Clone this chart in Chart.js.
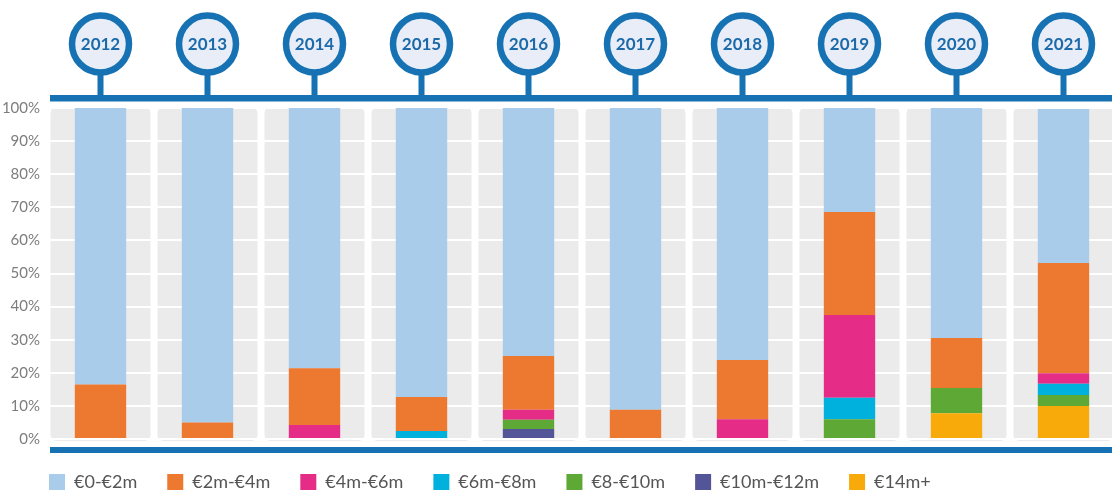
<!DOCTYPE html>
<html>
<head>
<meta charset="utf-8">
<script src="https://cdn.jsdelivr.net/npm/chart.js@4.4.0/dist/chart.umd.min.js"></script>
<style>
  html, body { margin: 0; padding: 0; overflow: hidden; background: #fff; }
  #wrap { width: 1112px; height: 494px; overflow: hidden; }
</style>
</head>
<body>
<div id="wrap"><canvas id="chart" width="1118" height="497"></canvas></div>
<script>
var years = ['2012', '2013', '2014', '2015', '2016', '2017', '2018', '2019', '2020', '2021'];

// share of deals per price band, %
var band0to2   = [83.5, 95, 78.6, 87.3, 74.9, 91.2, 76.1, 31.4, 69.5, 46.5];
var band2to4   = [16.5, 5, 17.2, 10.3, 16.3, 8.8, 17.9, 31.1, 15.1, 33.3];
var band4to6   = [0, 0, 4.2, 0, 3, 0, 6, 25, 0, 3.2];
var band6to8   = [0, 0, 0, 2.4, 0, 0, 0, 6.5, 0, 3.4];
var band8to10  = [0, 0, 0, 0, 2.8, 0, 0, 6, 7.6, 3.3];
var band10to12 = [0, 0, 0, 0, 3, 0, 0, 0, 0, 0];
var band14plus = [0, 0, 0, 0, 0, 0, 0, 0, 7.8, 10];

var yTicks = [0, 10, 20, 30, 40, 50, 60, 70, 80, 90, 100];

var BLUE = '#1672b3';

// grey rounded panels behind each year, drawn before the grid
var panels = {
    id: 'panels',
    beforeDraw: function(chart) {
        var ctx = chart.ctx, a = chart.chartArea;
        var w = (a.right - a.left) / years.length;
        ctx.save();
        ctx.fillStyle = '#ebebeb';
        for (var i = 0; i < years.length; i++) {
            var x0 = a.left + i * w + 3.5;
            ctx.beginPath();
            ctx.roundRect(x0, a.top - 1, w - 7, a.bottom - a.top + 3, 6);
            ctx.fill();
        }
        ctx.restore();
    }
};

// move the legend a bit right/down, chart.js puts it flush under the plot
var legendShift = {
    id: 'legendShift',
    afterLayout: function(chart) {
        var lg = chart.legend;
        lg.left += 19; lg.right += 19;
        lg.top += 4; lg.bottom += 4;
    }
};

// timeline: blue bars, stems and year circles
var timeline = {
    id: 'timeline',
    afterDraw: function(chart) {
        var ctx = chart.ctx;
        var xs = chart.scales.x;
        ctx.save();
        ctx.fillStyle = BLUE;
        ctx.fillRect(50, 95, 1080, 6.5);
        ctx.fillRect(50, 447, 1080, 6);
        for (var i = 0; i < years.length; i++) {
            var cx = xs.getPixelForValue(i);
            ctx.fillStyle = BLUE;
            ctx.fillRect(cx - 3, 70, 6, 28);
            ctx.beginPath();
            ctx.arc(cx, 44, 28.5, 0, Math.PI * 2);
            ctx.fillStyle = '#e8edf8';
            ctx.fill();
            ctx.lineWidth = 6.5;
            ctx.strokeStyle = BLUE;
            ctx.stroke();
            ctx.fillStyle = '#1b6aa9';
            ctx.font = 'bold 17px Lato';
            ctx.textAlign = 'center';
            ctx.textBaseline = 'middle';
            ctx.fillText(years[i], cx, 45);
        }
        ctx.restore();
    }
};

new Chart(document.getElementById('chart'), {
    type: 'bar',
    data: {
        labels: years,
        datasets: [
            { label: '€14m+', data: band14plus, backgroundColor: '#f9aa0b' },
            { label: '€10m-€12m', data: band10to12, backgroundColor: '#545599' },
            { label: '€8-€10m', data: band8to10, backgroundColor: '#5ea835' },
            { label: '€6m-€8m', data: band6to8, backgroundColor: '#00b1dd' },
            { label: '€4m-€6m', data: band4to6, backgroundColor: '#e52d87' },
            { label: '€2m-€4m', data: band2to4, backgroundColor: '#ed7930' },
            { label: '€0-€2m', data: band0to2, backgroundColor: '#a8cce9' }
        ]
    },
    options: {
        responsive: false,
        animation: false,
        layout: { padding: { left: 0, right: 1, top: 108, bottom: 0 } },
        datasets: { bar: { categoryPercentage: 1, barPercentage: 0.48 } },
        scales: {
            x: {
                stacked: true,
                display: false
            },
            y: {
                stacked: true,
                min: 0,
                max: 100,
                afterFit: function(s) { s.width = 47; },
                afterBuildTicks: function(s) { s.ticks = yTicks.map(function(v) { return { value: v }; }); },
                grid: { color: '#ffffff', lineWidth: 2, drawTicks: false },
                border: { display: false },
                ticks: {
                    padding: 7,
                    color: '#7d7d7d',
                    font: { family: 'Lato', size: 15 },
                    callback: function(v) { return v + '%'; }
                }
            }
        },
        plugins: {
            tooltip: { enabled: false },
            legend: {
                position: 'bottom',
                align: 'start',
                reverse: true,
                labels: {
                    boxWidth: 16,
                    boxHeight: 16,
                    padding: 30,
                    color: '#555555',
                    font: { family: 'Lato', size: 18 }
                }
            }
        }
    },
    plugins: [panels, legendShift, timeline]
});
</script>
</body>
</html>
